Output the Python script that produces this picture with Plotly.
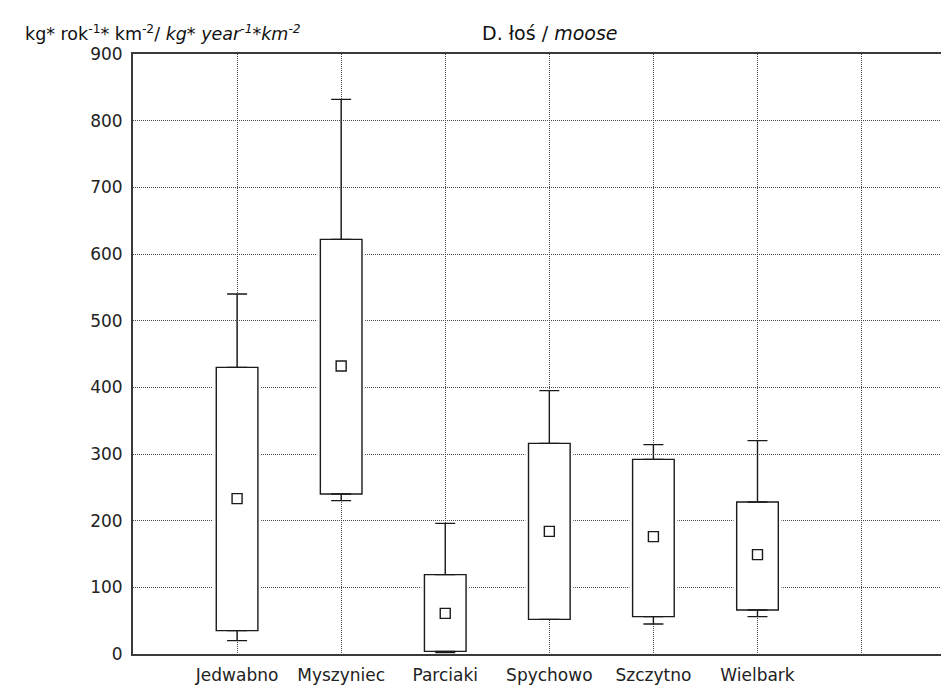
import plotly.graph_objects as go

# ---- data ----
categories = ["Jedwabno", "Myszyniec", "Parciaki", "Spychowo", "Szczytno", "Wielbark"]
whisker_min = [20, 230, 2, 52, 45, 56]
box_q1 = [35, 240, 4, 52, 56, 66]
median = [233, 432, 61, 184, 176, 149]
box_q3 = [430, 622, 119, 316, 292, 228]
whisker_max = [540, 832, 196, 395, 314, 320]
y_ticks = [0, 100, 200, 300, 400, 500, 600, 700, 800, 900]

positions = list(range(1, len(categories) + 1))
tick_positions = positions + [len(categories) + 1]
tick_text = categories + [""]

FONT = "DejaVu Sans, Verdana, sans-serif"
INK = "#1a1a1a"
GRID = "#4a4a4a"

# page body has an 8px margin, so the figure is drawn 8px right/down
OFF = 8
L, T, B = 133 - OFF, 54 - OFF, 36
W, H = 949 - OFF, 690 - OFF

fig = go.Figure()

# white halo behind boxes (breaks gridlines around boxes)
fig.add_trace(go.Bar(
    x=positions, y=[q3 - q1 for q1, q3 in zip(box_q1, box_q3)], base=box_q1,
    width=0.46, marker=dict(color="white", line=dict(width=0)),
    hoverinfo="skip", showlegend=False))

# boxes
fig.add_trace(go.Bar(
    x=positions, y=[q3 - q1 for q1, q3 in zip(box_q1, box_q3)], base=box_q1,
    width=0.4, marker=dict(color="white", line=dict(color=INK, width=1.4)),
    showlegend=False))

# upper whiskers
fig.add_trace(go.Scatter(
    x=positions, y=box_q3, mode="markers",
    marker=dict(size=1, color="rgba(0,0,0,0)"),
    error_y=dict(type="data", symmetric=False,
                 array=[mx - q3 for mx, q3 in zip(whisker_max, box_q3)],
                 arrayminus=[0] * len(positions),
                 color=INK, thickness=1.4, width=10),
    showlegend=False))

# lower whiskers
fig.add_trace(go.Scatter(
    x=positions, y=box_q1, mode="markers",
    marker=dict(size=1, color="rgba(0,0,0,0)"),
    error_y=dict(type="data", symmetric=False,
                 array=[0] * len(positions),
                 arrayminus=[q1 - mn for q1, mn in zip(box_q1, whisker_min)],
                 color=INK, thickness=1.4, width=10),
    showlegend=False))

# medians
fig.add_trace(go.Scatter(
    x=positions, y=median, mode="markers",
    marker=dict(symbol="square", size=10, color="white",
                line=dict(color=INK, width=1.4)),
    showlegend=False))

fig.update_layout(
    width=W, height=H,
    margin=dict(l=L, r=0, t=T, b=B, autoexpand=False),
    paper_bgcolor="white", plot_bgcolor="white",
    barmode="overlay",
    font=dict(family=FONT, size=16, color="#222"),
    xaxis=dict(
        range=[0, 7.84], tickmode="array", tickvals=tick_positions, ticktext=tick_text,
        showgrid=True, gridcolor=GRID, griddash="1px,1px", gridwidth=1,
        showline=True, linecolor="#3a3a3a", linewidth=2, mirror=True,
        ticks="", zeroline=False, tickfont=dict(size=17, color="#222"),
        ticklabelstandoff=5,
    ),
    yaxis=dict(
        range=[0, 900], tickmode="array", tickvals=y_ticks,
        showgrid=True, gridcolor=GRID, griddash="1px,1px", gridwidth=1,
        showline=True, linecolor="#3a3a3a", linewidth=2, mirror=False,
        ticks="", zeroline=False, tickfont=dict(size=17, color="#222"),
        ticklabelstandoff=5,
    ),
)

# annotations placed by page-pixel centre, converted to paper coords
plot_w = 949 - 133
plot_h = 654 - 54
def px_to_paper(px, py):
    return (px - 133) / plot_w, (654 - py) / plot_h

tx, ty = px_to_paper(549, 33)
lx, ly = px_to_paper(23, 33)
fig.add_annotation(text="D. łoś / <i>moose</i>", x=tx, y=ty, xref="paper", yref="paper",
                   xanchor="center", yanchor="middle", showarrow=False,
                   font=dict(size=19, color="#111"))
fig.add_annotation(text="kg* rok<sup>-1</sup>* km<sup>-2</sup>/ <i>kg* year<sup>-1</sup>*km<sup>-2</sup></i>",
                   x=lx, y=ly, xref="paper", yref="paper", xanchor="left", yanchor="middle",
                   showarrow=False, font=dict(size=17.5, color="#111"))

fig.write_html("out.html")
